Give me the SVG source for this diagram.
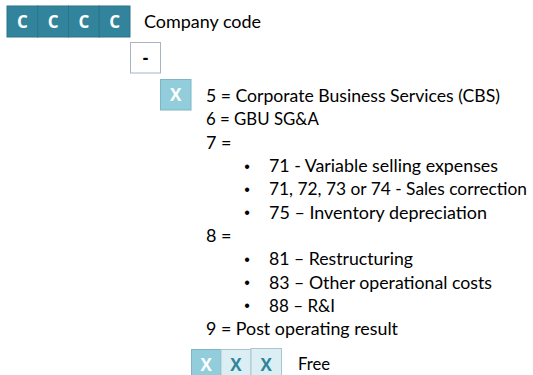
<svg xmlns="http://www.w3.org/2000/svg" width="533" height="375" viewBox="0 0 533 375">
<style>
.t{font-family:Lato,"Open Sans","Liberation Sans",sans-serif;font-size:18px;fill:#000}
.b{font-family:"Liberation Sans",sans-serif;font-size:16px;fill:#000;text-anchor:middle}
.bx{font-family:"Open Sans","Liberation Sans",sans-serif;font-size:17px;font-weight:bold;text-anchor:middle}
.dk{fill:#31849B;stroke:#2B7489;stroke-width:1}
.lt{fill:#92CDDC;stroke:#7FB5C4;stroke-width:1}
.pl{fill:#DAEEF3;stroke:#A9C6CF;stroke-width:1}
</style>
<rect width="533" height="375" fill="#fff"/>
<g id="company-code">
<rect class="dk" x="7" y="6" width="30.75" height="31"/>
<rect class="dk" x="37.75" y="6" width="30.75" height="31"/>
<rect class="dk" x="68.5" y="6" width="30.75" height="31"/>
<rect class="dk" x="99.25" y="6" width="30.75" height="31"/>
<text class="bx" x="22.4" y="28" fill="#fff">C</text>
<text class="bx" x="53.1" y="28" fill="#fff">C</text>
<text class="bx" x="83.9" y="28" fill="#fff">C</text>
<text class="bx" x="114.6" y="28" fill="#fff">C</text>
<text class="t" x="144" y="28" textLength="117" lengthAdjust="spacingAndGlyphs">Company code</text>
</g>
<g id="dash">
<rect x="130.5" y="42.5" width="30" height="30.5" fill="#fff" stroke="#A7B4C6" stroke-width="1"/>
<text class="bx" x="145.5" y="64" fill="#000">-</text>
</g>
<g id="x-digit">
<rect class="lt" x="160.5" y="79.5" width="30.5" height="30.5"/>
<text class="bx" x="175.7" y="101" fill="#fff">X</text>
<text class="t" x="206" y="102" textLength="294" lengthAdjust="spacingAndGlyphs">5 = Corporate Business Services (CBS)</text>
<text class="t" x="206" y="125" textLength="113" lengthAdjust="spacingAndGlyphs">6 = GBU SG&amp;A</text>
<text class="t" x="206" y="148.5">7 =</text>
<text class="b" x="247" y="171.5">•</text>
<text class="t" x="269" y="172" textLength="229" lengthAdjust="spacingAndGlyphs">71 - Variable selling expenses</text>
<text class="b" x="247" y="194.8">•</text>
<text class="t" x="269" y="195.3" style="font-size:17.3px" textLength="258" lengthAdjust="spacingAndGlyphs">71, 72, 73 or 74 - Sales correction</text>
<text class="b" x="247" y="218.1">•</text>
<text class="t" x="269" y="218.6" textLength="218" lengthAdjust="spacingAndGlyphs">75 – Inventory depreciation</text>
<text class="t" x="206" y="241.9">8 =</text>
<text class="b" x="247" y="264.7">•</text>
<text class="t" x="269" y="265.2" textLength="144" lengthAdjust="spacingAndGlyphs">81 – Restructuring</text>
<text class="b" x="247" y="288">•</text>
<text class="t" x="269" y="288.5" textLength="223" lengthAdjust="spacingAndGlyphs">83 – Other operational costs</text>
<text class="b" x="247" y="311.3">•</text>
<text class="t" x="269" y="311.8" textLength="66" lengthAdjust="spacingAndGlyphs">88 – R&amp;I</text>
<text class="t" x="206" y="335" textLength="192" lengthAdjust="spacingAndGlyphs">9 = Post operating result</text>
</g>
<g id="free">
<rect class="lt" x="191.5" y="349.5" width="29.5" height="26"/>
<rect class="pl" x="221" y="349.5" width="30" height="26"/>
<rect class="pl" x="251" y="348.5" width="30.5" height="27"/>
<text class="bx" x="206.2" y="371" fill="#fff">X</text>
<text class="bx" x="236" y="371" fill="#31849B">X</text>
<text class="bx" x="266.2" y="371" fill="#31849B">X</text>
<text class="t" x="298" y="370" textLength="32" lengthAdjust="spacingAndGlyphs">Free</text>
</g>
</svg>
